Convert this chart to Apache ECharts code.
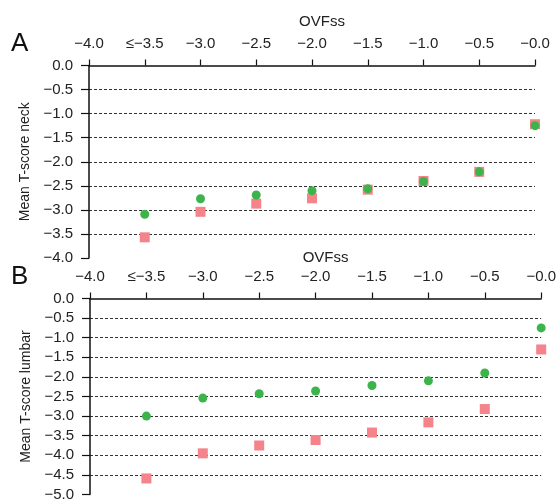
<!DOCTYPE html>
<html><head><meta charset="utf-8">
<style>html,body{margin:0;padding:0;background:#fff}#c{width:559px;height:502px}</style>
<script src="https://cdn.jsdelivr.net/npm/echarts@6/dist/echarts.min.js"></script>
</head><body><div id="c"></div>
<script>
// OVFss positions (x values)
var ovfss = [-3.5, -3.0, -2.5, -2.0, -1.5, -1.0, -0.5, 0.0];
// Panel A: mean T-score neck
var neckGreen = [-3.09, -2.77, -2.69, -2.60, -2.56, -2.41, -2.21, -1.25];
var neckPink  = [-3.57, -3.04, -2.87, -2.76, -2.58, -2.40, -2.21, -1.22];
// Panel B: mean T-score lumbar
var lumbarGreen = [-3.00, -2.54, -2.43, -2.36, -2.22, -2.10, -1.90, -0.75];
var lumbarPink  = [-4.59, -3.95, -3.75, -3.61, -3.42, -3.16, -2.82, -1.30];

var GREEN = '#3cb44b', PINK = '#f4838a';
var FONT = 'Liberation Sans, Arial, sans-serif';

function pairs(xs, ys){ return xs.map(function(x,i){ return [x, ys[i]]; }); }
function fmtX(v){ if (v === -3.5) return '\u2264\u22123.5'; return '\u2212' + Math.abs(v).toFixed(1); }
function fmtY(v){ if (v === 0) return '0.0'; return '\u2212' + Math.abs(v).toFixed(1); }

function xAxis(gi, gap){
  return {
    gridIndex: gi, type: 'value', position: 'top', min: -4, max: 0, interval: 0.5,
    name: 'OVFss', nameLocation: 'middle', nameGap: gap,
    nameTextStyle: { fontFamily: FONT, fontSize: 15, color: '#222', padding: [0,0,0,20] },
    axisLine: { show: true, onZero: false, lineStyle: { color: '#111', width: 1.5 } },
    axisTick: { show: true, inside: false, length: 6, lineStyle: { color: '#111', width: 1.2 } },
    axisLabel: { formatter: fmtX, fontFamily: FONT, fontSize: 15, color: '#222', margin: 14 },
    splitLine: { show: false }
  };
}
function yAxis(gi, min, name){
  return {
    gridIndex: gi, type: 'value', min: min, max: 0, interval: 0.5,
    name: name, nameLocation: 'middle', nameGap: 55,
    nameTextStyle: { fontFamily: FONT, fontSize: 14, color: '#222' },
    axisLine: { show: true, onZero: false, lineStyle: { color: '#111', width: 1.5 } },
    axisTick: { show: true, inside: false, length: 8, lineStyle: { color: '#111', width: 1.2 } },
    axisLabel: { formatter: fmtY, fontFamily: FONT, fontSize: 15, color: '#222', margin: 16 },
    splitLine: { show: true, showMinLine: false, showMaxLine: false,
      lineStyle: { color: '#333', width: 1, type: [3, 2] } }
  };
}
function sc(gi, data, sym, color, size){
  return { type: 'scatter', xAxisIndex: gi, yAxisIndex: gi, data: data,
    symbol: sym, symbolSize: size, itemStyle: { color: color, opacity: 1 }, z: sym === 'circle' ? 3 : 2 };
}

var chart = echarts.init(document.getElementById('c'), null, { renderer: 'canvas' });
chart.setOption({
  animation: false,
  grid: [
    { left: 89, top: 65.5, width: 446, height: 192.5 },
    { left: 90, top: 298.5, width: 456, height: 198.5 }
  ],
  xAxis: [xAxis(0, 36), xAxis(1, 33)],
  yAxis: [yAxis(0, -4, 'Mean T-score neck'), yAxis(1, -5, 'Mean T-score lumbar')],
  series: [
    sc(0, pairs(ovfss, neckPink), 'rect', PINK, 10),
    sc(0, pairs(ovfss, neckGreen), 'circle', GREEN, 9),
    sc(1, pairs(ovfss, lumbarPink), 'rect', PINK, 10),
    sc(1, pairs(ovfss, lumbarGreen), 'circle', GREEN, 9)
  ],
  graphic: [
    { type: 'text', left: 11, top: 31, style: { text: 'A', fontFamily: FONT, fontSize: 26, fill: '#111' } },
    { type: 'text', left: 11, top: 264, style: { text: 'B', fontFamily: FONT, fontSize: 26, fill: '#111' } }
  ]
});
</script></body></html>
